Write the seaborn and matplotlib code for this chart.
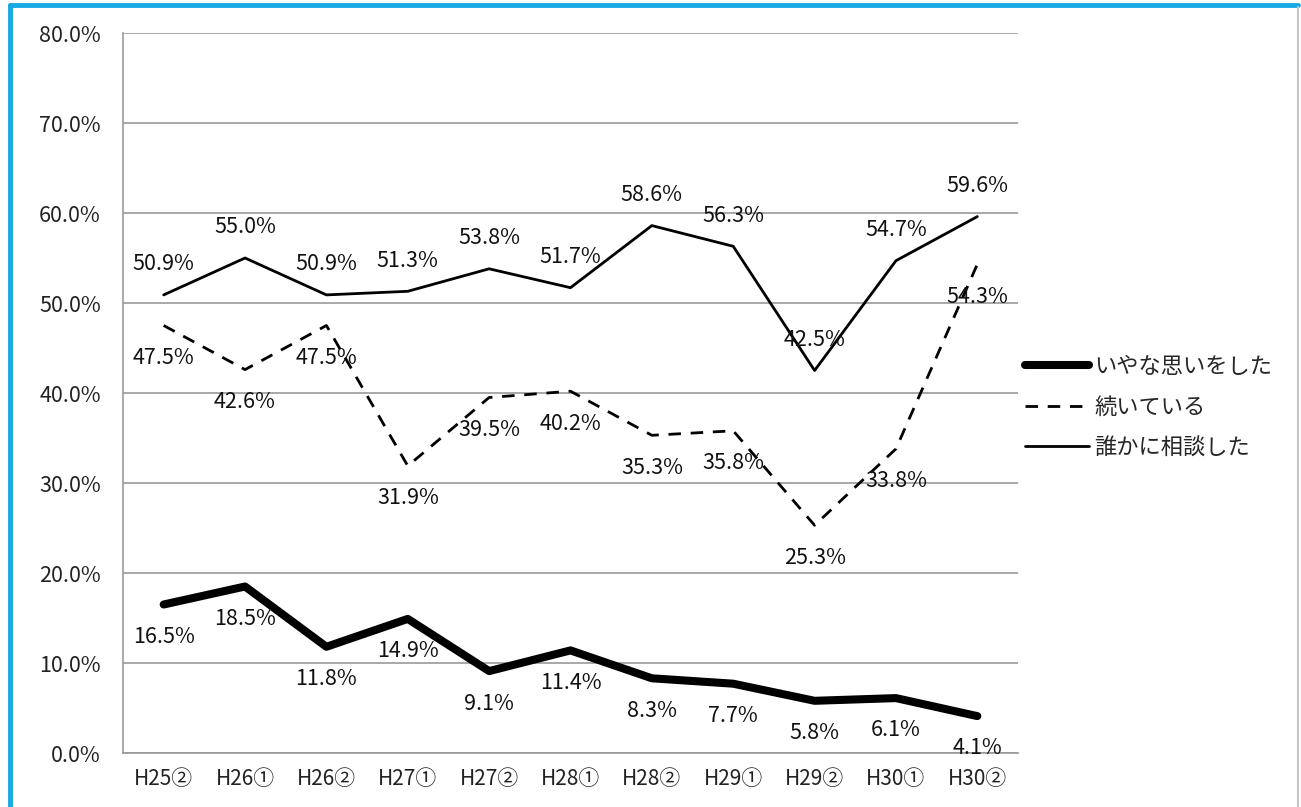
import numpy as np
import pandas as pd
import seaborn as sns
import matplotlib.pyplot as plt
from matplotlib.lines import Line2D

# survey periods
periods = ["H25②", "H26①", "H26②", "H27①", "H27②", "H28①",
           "H28②", "H29①", "H29②", "H30①", "H30②"]

# values in percent
iyana = [16.5, 18.5, 11.8, 14.9, 9.1, 11.4, 8.3, 7.7, 5.8, 6.1, 4.1]
tsuzuite = [47.5, 42.6, 47.5, 31.9, 39.5, 40.2, 35.3, 35.8, 25.3, 33.8, 54.3]
soudan = [50.9, 55.0, 50.9, 51.3, 53.8, 51.7, 58.6, 56.3, 42.5, 54.7, 59.6]

series_names = ["いやな思いをした", "続いている", "誰かに相談した"]

sns.set_theme(style="white")
plt.rcParams['font.family'] = ['Noto Sans CJK JP', 'DejaVu Sans']

df = pd.DataFrame({
    "x": list(range(len(periods))) * 3,
    "value": iyana + tsuzuite + soudan,
    "series": [series_names[0]] * 11 + [series_names[1]] * 11 + [series_names[2]] * 11,
})

fig = plt.figure(figsize=(13.01, 8.07), dpi=100)
W, H = 1301, 807
ax = fig.add_axes([123 / W, 1 - 753 / H, (1018 - 123) / W, (753 - 33) / H])

# line styles per series
styles = {
    series_names[0]: dict(lw=5.8, ls="-"),
    series_names[1]: dict(lw=2.0, ls=(0, (4.5, 3.5))),
    series_names[2]: dict(lw=2.0, ls="-"),
}
for name in series_names:
    sub = df[df["series"] == name]
    sns.lineplot(data=sub, x="x", y="value", ax=ax, color="black",
                 linewidth=styles[name]["lw"], linestyle=styles[name]["ls"],
                 label=name, solid_capstyle="round", dash_capstyle="butt")

# data labels
offsets = {series_names[0]: -3.6, series_names[1]: -3.6, series_names[2]: 3.4}
for name, vals in zip(series_names, [iyana, tsuzuite, soudan]):
    for i, v in enumerate(vals):
        ax.text(i, v + offsets[name], f"{v:.1f}%", ha="center", va="center",
                fontsize=15.5, color="#111111")

ax.set_xlim(-0.5, len(periods) - 0.5)
ax.set_ylim(0, 80)
ax.set_yticks(np.arange(0, 81, 10))
ax.set_yticklabels([f"{t:.1f}%" for t in np.arange(0, 81, 10)], fontsize=15.5)
ax.set_xticks(range(len(periods)))
ax.set_xticklabels(periods, fontsize=15)
ax.set_xticks(np.arange(-0.5, len(periods), 1), minor=True)
ax.tick_params(axis="x", which="major", length=0, pad=11, colors="#222222")
ax.tick_params(axis="x", which="minor", length=7, color="#999999", width=1.2)
ax.tick_params(axis="y", length=8, color="#999999", width=1.2, pad=8, colors="#222222")
ax.yaxis.grid(True, color="#999999", lw=1.2)
ax.set_xlabel("")
ax.set_ylabel("")
for side in ["top", "right"]:
    ax.spines[side].set_visible(False)
for side in ["left", "bottom"]:
    ax.spines[side].set_color("#999999")
    ax.spines[side].set_linewidth(1.2)

ax.legend(loc="center left", bbox_to_anchor=(1025 / W, 1 - 407 / H),
          bbox_transform=fig.transFigure, frameon=False,
          fontsize=16, handlelength=2.9, handletextpad=0.2,
          labelspacing=0.8, borderaxespad=0, borderpad=0)

# frame around the chart area: blue top/left, thin grey right
fig.add_artist(Line2D([10 / W, 1298 / W], [1 - 5 / H, 1 - 5 / H],
                      transform=fig.transFigure, color="#17a9e1", lw=3.5))
fig.add_artist(Line2D([10 / W, 10 / W], [0, 1 - 5 / H],
                      transform=fig.transFigure, color="#17a9e1", lw=3.5))
fig.add_artist(Line2D([1298 / W, 1298 / W], [0, 1 - 7 / H],
                      transform=fig.transFigure, color="#c8c8c8", lw=1.5))

fig.savefig("out.png", dpi=100)
